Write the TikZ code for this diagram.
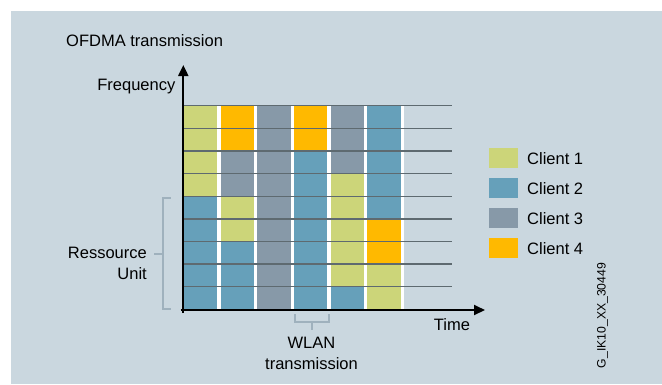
\documentclass[tikz,border=0pt]{standalone}
\usepackage{fontspec}
\setmainfont{Liberation Sans}
\usetikzlibrary{arrows.meta}
\definecolor{bgblue}{HTML}{CAD7DF}
\definecolor{clientone}{HTML}{CCD579}
\definecolor{clienttwo}{HTML}{66A0BA}
\definecolor{clientthree}{HTML}{8799A8}
\definecolor{clientfour}{HTML}{FFB900}
\definecolor{gridgray}{HTML}{5E6A70}
\definecolor{bracegray}{HTML}{9FB1BD}
\tikzset{
  lbl/.style={font=\fontsize{16.5}{19}\selectfont, inner sep=0pt},
  brace/.style={draw=bracegray, line width=2pt},
  axis/.style={line width=2pt, -{Triangle[length=11pt,width=10pt]}}
}

\begin{document}
\begin{tikzpicture}[x=1pt, y=-1pt]
		%%%%% START %%%%%
		\useasboundingbox (0, 0) rectangle (662, 384);
		\fill[white] (0, 0) rectangle (662, 384);
		\fill[bgblue] (11, 11) rectangle (662, 384);
		
		\node[lbl, anchor=west] (title) at (66, 41) {OFDMA transmission};
		
		% column 1
		\fill[clientone] (184, 105.7) rectangle (217.3, 196.2);
		\fill[clienttwo] (184, 196.2) rectangle (217.3, 309.3);
		\fill[white] (217.3, 105.7) rectangle (220.7, 309.3);
		
		% column 2
		\fill[clientfour] (220.7, 105.7) rectangle (254, 151);
		\fill[clientthree] (220.7, 151) rectangle (254, 196.2);
		\fill[clientone] (220.7, 196.2) rectangle (254, 241.5);
		\fill[clienttwo] (220.7, 241.5) rectangle (254, 309.3);
		\fill[white] (254, 105.7) rectangle (257.3, 309.3);
		
		% column 3
		\fill[clientthree] (257.3, 105.7) rectangle (290.7, 309.3);
		\fill[white] (290.7, 105.7) rectangle (294, 309.3);
		
		% column 4
		\fill[clientfour] (294, 105.7) rectangle (327.3, 151);
		\fill[clienttwo] (294, 151) rectangle (327.3, 309.3);
		\fill[white] (327.3, 105.7) rectangle (330.7, 309.3);
		
		% column 5
		\fill[clientthree] (330.7, 105.7) rectangle (364, 173.6);
		\fill[clientone] (330.7, 173.6) rectangle (364, 286.7);
		\fill[clienttwo] (330.7, 286.7) rectangle (364, 309.3);
		\fill[white] (364, 105.7) rectangle (367.3, 309.3);
		
		% column 6
		\fill[clienttwo] (367.3, 105.7) rectangle (400.7, 219);
		\fill[clientfour] (367.3, 219) rectangle (400.7, 264.1);
		\fill[clientone] (367.3, 264.1) rectangle (400.7, 309.3);
		\fill[white] (400.7, 105.7) rectangle (404, 309.3);
		
		% frequency lines
		\draw[gridgray, line width=1.3pt] (183.3, 105.7) -- (451.7, 105.7);
		\draw[gridgray, line width=1.3pt] (183.3, 128.3) -- (451.7, 128.3);
		\draw[gridgray, line width=1.3pt] (183.3, 151) -- (451.7, 151);
		\draw[gridgray, line width=1.3pt] (183.3, 173.6) -- (451.7, 173.6);
		\draw[gridgray, line width=1.3pt] (183.3, 196.2) -- (451.7, 196.2);
		\draw[gridgray, line width=1.3pt] (183.3, 219) -- (451.7, 219);
		\draw[gridgray, line width=1.3pt] (183.3, 241.5) -- (451.7, 241.5);
		\draw[gridgray, line width=1.3pt] (183.3, 264.1) -- (451.7, 264.1);
		\draw[gridgray, line width=1.3pt] (183.3, 286.7) -- (451.7, 286.7);
		
		% axes
		\draw[axis] (183.3, 313) -- (183.3, 65);
		\draw[axis] (180.5, 310) -- (485, 310);
		\node[lbl, anchor=east] (freq) at (175.5, 87) {Frequency};
		\node[lbl] (time) at (452, 324.5) {Time};
		
		% ressource unit
		\draw[brace] (170.5, 198) -- (162.7, 198) -- (162.7, 309.3) -- (170.5, 309.3);
		\draw[brace] (162.7, 254) -- (154.3, 254);
		\node[lbl, align=right, anchor=east] (ru) at (147, 263.5) {Ressource\\[2.2pt]Unit};
		
		% wlan transmission
		\draw[brace] (295, 314) -- (295, 322) -- (329.3, 322) -- (329.3, 314);
		\draw[brace] (312.2, 322) -- (312.2, 330);
		\node[lbl, align=center] (wlan) at (311.5, 353) {WLAN\\[2.2pt]transmission};
		
		% legend
		\fill[clientone] (489, 148) rectangle (518, 168);
		\fill[clienttwo] (489, 178) rectangle (518, 198);
		\fill[clientthree] (489, 208) rectangle (518, 228);
		\fill[clientfour] (489, 238) rectangle (518, 258);
		\node[lbl, anchor=west] (cone) at (527, 158.5) {Client 1};
		\node[lbl, anchor=west] (ctwo) at (527, 188.5) {Client 2};
		\node[lbl, anchor=west] (cthree) at (527, 218.5) {Client 3};
		\node[lbl, anchor=west] (cfour) at (527, 248.5) {Client 4};
		
		\node[font=\fontsize{12.2}{14}\selectfont, inner sep=0pt, rotate=90] (docid) at (602.5, 315.5) {G\_IK10\_XX\_30449};
		%%%%% END %%%%%
	\end{tikzpicture}
\end{document}
